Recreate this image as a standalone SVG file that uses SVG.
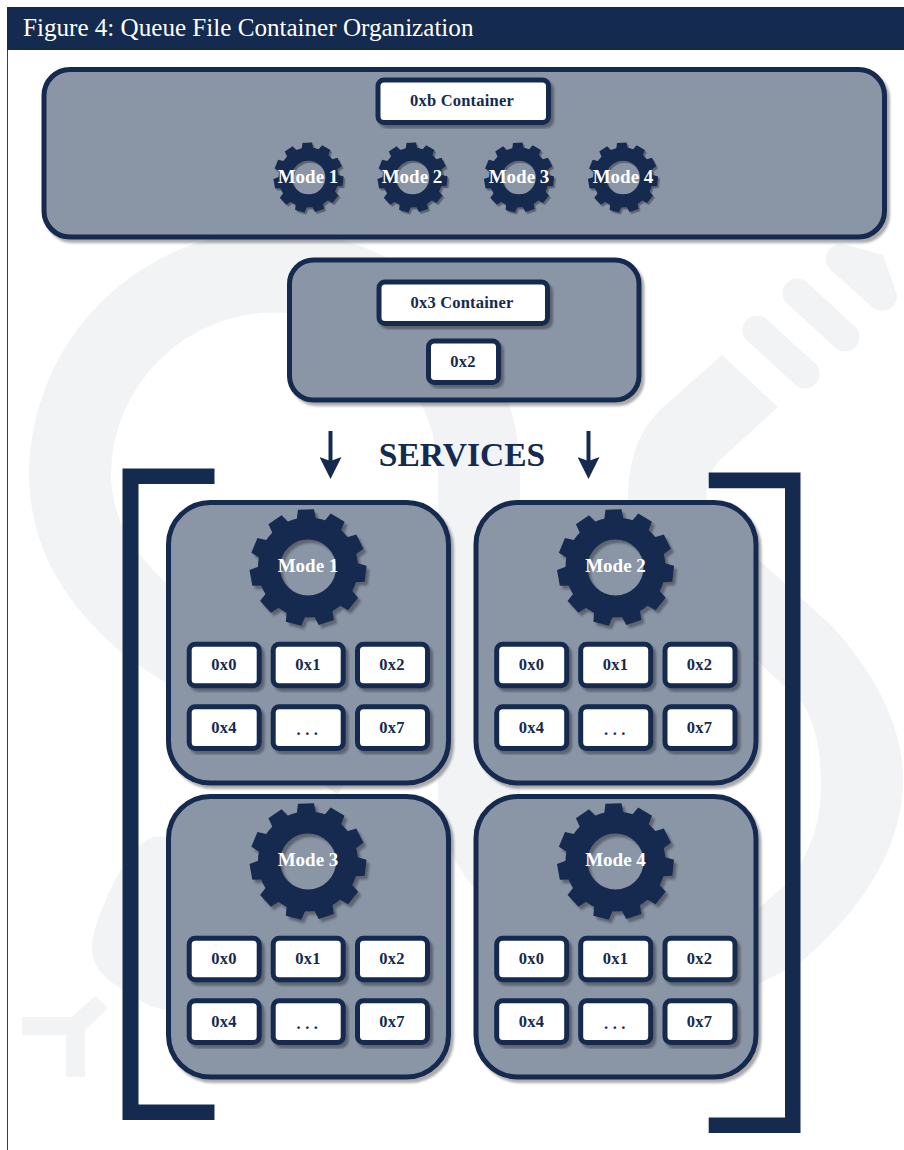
<svg xmlns="http://www.w3.org/2000/svg" xmlns:xlink="http://www.w3.org/1999/xlink" width="904" height="1150" viewBox="0 0 904 1150">
<style>
.wm{fill:#f2f3f5;stroke:none}
.wms{fill:none;stroke:#f2f3f5}
.navy{fill:#142a4f}
.panel{fill:#8a95a6;stroke:#142a4f;stroke-width:5;filter:url(#sh)}
.box{fill:#fff;stroke:#142a4f;stroke-width:5;filter:url(#sh)}
.t{font-family:"Liberation Serif","Times New Roman",serif;font-weight:700;font-size:16.5px;letter-spacing:.2px;fill:#142a4f;text-anchor:middle}
.m{font-family:"Liberation Serif","Times New Roman",serif;font-weight:700;font-size:19px;fill:#fff;text-anchor:middle}
.d{letter-spacing:4.5px}
.arrow{stroke:#142a4f;stroke-width:4;fill:none;marker-end:url(#head)}
</style>
<defs>
<filter id="sh" x="-10%" y="-10%" width="125%" height="125%"><feDropShadow dx="3" dy="3.5" stdDeviation="0.9" flood-color="#000" flood-opacity="0.33"/></filter>
<marker id="head" markerUnits="userSpaceOnUse" viewBox="0 -11 22 22" markerWidth="22" markerHeight="22" refX="4" refY="0" orient="auto"><path d="M0,-11L22,0L0,11L4,0Z" fill="#142a4f"/></marker>
<path id="tooth" d="M-10,-46L-8,-58H8L10,-46Z"/>
<g id="gear" fill="#142a4f" filter="url(#sh)">
<circle r="39" fill="none" stroke="#142a4f" stroke-width="22"/>
<use xlink:href="#tooth" href="#tooth" transform="rotate(-2)"/>
<use xlink:href="#tooth" href="#tooth" transform="rotate(30.7)"/>
<use xlink:href="#tooth" href="#tooth" transform="rotate(63.5)"/>
<use xlink:href="#tooth" href="#tooth" transform="rotate(96.2)"/>
<use xlink:href="#tooth" href="#tooth" transform="rotate(128.9)"/>
<use xlink:href="#tooth" href="#tooth" transform="rotate(161.6)"/>
<use xlink:href="#tooth" href="#tooth" transform="rotate(194.4)"/>
<use xlink:href="#tooth" href="#tooth" transform="rotate(227.1)"/>
<use xlink:href="#tooth" href="#tooth" transform="rotate(259.8)"/>
<use xlink:href="#tooth" href="#tooth" transform="rotate(292.5)"/>
<use xlink:href="#tooth" href="#tooth" transform="rotate(325.3)"/>
</g>
</defs>
<rect width="904" height="1150" fill="#fff"/>
<g id="watermark">
<path class="wms" stroke-width="82" d="M520,880C495,850 479,830 479,790V480A204,204 0 0 0 70,472C70,540 105,585 152,625L360,760"/>
<path class="wm" d="M722,355L660,410C640,430 628,458 628,500L640,560L740,650L760,663L785,687L800,700C815,720 821,750 821,783C821,825 810,855 785,885L740,925L740,990L760,983L800,963C845,925 903,860 903,780C903,730 880,680 833,627L760,561L708,510C704,490 708,472 720,460L778,407Z"/>
<path class="wms" stroke-width="29" stroke-linecap="round" d="M757,330L805,374M797,293L845,337"/>
<path class="wm" d="M847,245L883,255L897,295A15,15 0 0 1 872,307L830,269A15,15 0 0 1 847,245Z"/>
<path class="wm" d="M153,837C125,845 92,925 92,947C92,975 115,985 145,1003C155,1010 175,1012 200,1010V835Z"/>
<path class="wm" d="M22,1017H72L95,996L108,1008L85,1030V1077H66V1035H22Z"/>
</g>
<g id="header">
<rect class="navy" x="7" y="7" width="897" height="43"/>
<path d="M7.5,50V1150" stroke="#2c4062" stroke-width="1"/>
<text x="23" y="36" font-family="'Liberation Serif','Times New Roman',serif" font-size="25.1" fill="#fff">Figure 4: Queue File Container Organization</text>
</g>
<g id="container-0xb">
<rect class="panel" x="44" y="69.5" width="840.5" height="167.5" rx="26"/>
<rect class="box" x="378" y="80" width="170.5" height="42.5" rx="6"/>
<text class="t" x="462" y="106">0xb Container</text>
<g transform="translate(308.5 177.5) scale(.6)"><use xlink:href="#gear" href="#gear"/></g>
<g transform="translate(412.5 177.5) scale(.6)"><use xlink:href="#gear" href="#gear"/></g>
<g transform="translate(519 177.5) scale(.6)"><use xlink:href="#gear" href="#gear"/></g>
<g transform="translate(623 177.5) scale(.6)"><use xlink:href="#gear" href="#gear"/></g>
<text class="m" x="308" y="183">Mode 1</text>
<text class="m" x="412" y="183">Mode 2</text>
<text class="m" x="519" y="183">Mode 3</text>
<text class="m" x="623" y="183">Mode 4</text>
</g>
<g id="container-0x3">
<rect class="panel" x="289.5" y="260" width="349.5" height="140" rx="24"/>
<rect class="box" x="379" y="282" width="168.5" height="41.5" rx="6"/>
<text class="t" x="462" y="308">0x3 Container</text>
<rect class="box" x="428.5" y="341" width="70" height="41.5" rx="6"/>
<text class="t" x="463" y="367">0x2</text>
</g>
<g id="connectors">
<path class="arrow" d="M330.5,431V461"/>
<path class="arrow" d="M588.5,431V461"/>
</g>
<g id="services-label">
<text x="462" y="465.5" font-family="'Liberation Serif','Times New Roman',serif" font-weight="700" font-size="33.5" fill="#142a4f" text-anchor="middle">SERVICES</text>
</g>
<g id="brackets">
<path class="navy" d="M122.5,468.5H214.5V484H138.5V1104.5H214.5V1120H122.5Z"/>
<path class="navy" d="M800.5,472.5H708.7V488.2H785V1117.5H708.7V1133H800.5Z"/>
</g>
<g id="service-mode-1">
<rect class="panel" x="168.5" y="502.5" width="280" height="280.5" rx="42"/>
<use xlink:href="#gear" href="#gear" transform="translate(308 567.5)"/>
<text class="m" x="308" y="572">Mode 1</text>
<rect class="box" x="189.2" y="644.2" width="70" height="41.6" rx="6"/><text class="t" x="224" y="670">0x0</text>
<rect class="box" x="273.2" y="644.2" width="70" height="41.6" rx="6"/><text class="t" x="308" y="670">0x1</text>
<rect class="box" x="357.5" y="644.2" width="70" height="41.6" rx="6"/><text class="t" x="392" y="670">0x2</text>
<rect class="box" x="189.2" y="706.8" width="70" height="41.6" rx="6"/><text class="t" x="224" y="733">0x4</text>
<rect class="box" x="273.2" y="706.8" width="70" height="41.6" rx="6"/><text class="t d" x="309.5" y="735">...</text>
<rect class="box" x="357.5" y="706.8" width="70" height="41.6" rx="6"/><text class="t" x="392" y="733">0x7</text>
</g>
<g id="service-mode-2" transform="translate(307.5 0)">
<rect class="panel" x="168.5" y="502.5" width="280" height="280.5" rx="42"/>
<use xlink:href="#gear" href="#gear" transform="translate(308 567.5)"/>
<text class="m" x="308" y="572">Mode 2</text>
<rect class="box" x="189.2" y="644.2" width="70" height="41.6" rx="6"/><text class="t" x="224" y="670">0x0</text>
<rect class="box" x="273.2" y="644.2" width="70" height="41.6" rx="6"/><text class="t" x="308" y="670">0x1</text>
<rect class="box" x="357.5" y="644.2" width="70" height="41.6" rx="6"/><text class="t" x="392" y="670">0x2</text>
<rect class="box" x="189.2" y="706.8" width="70" height="41.6" rx="6"/><text class="t" x="224" y="733">0x4</text>
<rect class="box" x="273.2" y="706.8" width="70" height="41.6" rx="6"/><text class="t d" x="309.5" y="735">...</text>
<rect class="box" x="357.5" y="706.8" width="70" height="41.6" rx="6"/><text class="t" x="392" y="733">0x7</text>
</g>
<g id="service-mode-3" transform="translate(0 294)">
<rect class="panel" x="168.5" y="502.5" width="280" height="280.5" rx="42"/>
<use xlink:href="#gear" href="#gear" transform="translate(308 567.5)"/>
<text class="m" x="308" y="572">Mode 3</text>
<rect class="box" x="189.2" y="644.2" width="70" height="41.6" rx="6"/><text class="t" x="224" y="670">0x0</text>
<rect class="box" x="273.2" y="644.2" width="70" height="41.6" rx="6"/><text class="t" x="308" y="670">0x1</text>
<rect class="box" x="357.5" y="644.2" width="70" height="41.6" rx="6"/><text class="t" x="392" y="670">0x2</text>
<rect class="box" x="189.2" y="706.8" width="70" height="41.6" rx="6"/><text class="t" x="224" y="733">0x4</text>
<rect class="box" x="273.2" y="706.8" width="70" height="41.6" rx="6"/><text class="t d" x="309.5" y="735">...</text>
<rect class="box" x="357.5" y="706.8" width="70" height="41.6" rx="6"/><text class="t" x="392" y="733">0x7</text>
</g>
<g id="service-mode-4" transform="translate(307.5 294)">
<rect class="panel" x="168.5" y="502.5" width="280" height="280.5" rx="42"/>
<use xlink:href="#gear" href="#gear" transform="translate(308 567.5)"/>
<text class="m" x="308" y="572">Mode 4</text>
<rect class="box" x="189.2" y="644.2" width="70" height="41.6" rx="6"/><text class="t" x="224" y="670">0x0</text>
<rect class="box" x="273.2" y="644.2" width="70" height="41.6" rx="6"/><text class="t" x="308" y="670">0x1</text>
<rect class="box" x="357.5" y="644.2" width="70" height="41.6" rx="6"/><text class="t" x="392" y="670">0x2</text>
<rect class="box" x="189.2" y="706.8" width="70" height="41.6" rx="6"/><text class="t" x="224" y="733">0x4</text>
<rect class="box" x="273.2" y="706.8" width="70" height="41.6" rx="6"/><text class="t d" x="309.5" y="735">...</text>
<rect class="box" x="357.5" y="706.8" width="70" height="41.6" rx="6"/><text class="t" x="392" y="733">0x7</text>
</g>
</svg>
